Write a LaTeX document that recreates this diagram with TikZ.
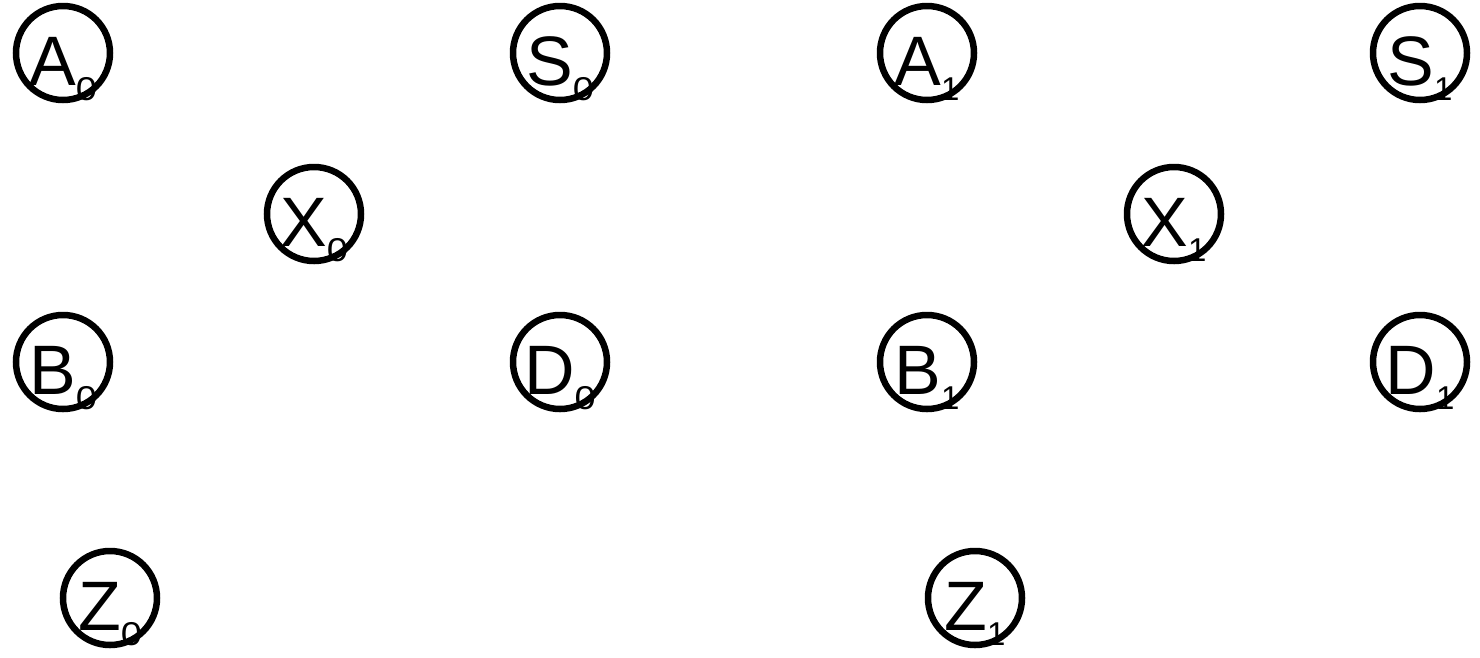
\documentclass[tikz,border=0pt]{standalone}
\usepackage{fontspec}
\setmainfont{Liberation Sans}
\begin{document}
\begin{tikzpicture}[x=1pt,y=-1pt,
  circ/.style={circle, draw, line width=6.5pt, minimum size=94pt, inner sep=0pt},
  lbl/.style={anchor=base, inner sep=0pt, font=\fontsize{70}{70}\selectfont}]
\useasboundingbox (0,0) rectangle (1480,657);
\newcommand{\nd}[5]{%
  \node[circ] (#1) at (#2,#3) {};
  \node[lbl] (#1t) at ([yshift=-32pt]#1.center) {#4\raisebox{-15pt}{\fontsize{33}{33}\selectfont #5}};
}
\newcommand{\zr}{\scalebox{1.15}[1]{0}}
\nd{a0}{63}{53}{A}{\zr}
\nd{s0}{560}{53}{S}{\zr}
\nd{a1}{927}{53}{A}{1}
\nd{s1}{1420}{53}{S}{1}
\nd{x0}{314}{214}{X}{\zr}
\nd{x1}{1174}{214}{X}{1}
\nd{b0}{63}{362}{B}{\zr}
\nd{d0}{560}{362}{D}{\zr}
\nd{b1}{927}{362}{B}{1}
\nd{d1}{1420}{362}{D}{1}
\nd{z0}{110}{598}{Z}{\zr}
\nd{z1}{975}{598}{Z}{1}
\end{tikzpicture}
\end{document}
